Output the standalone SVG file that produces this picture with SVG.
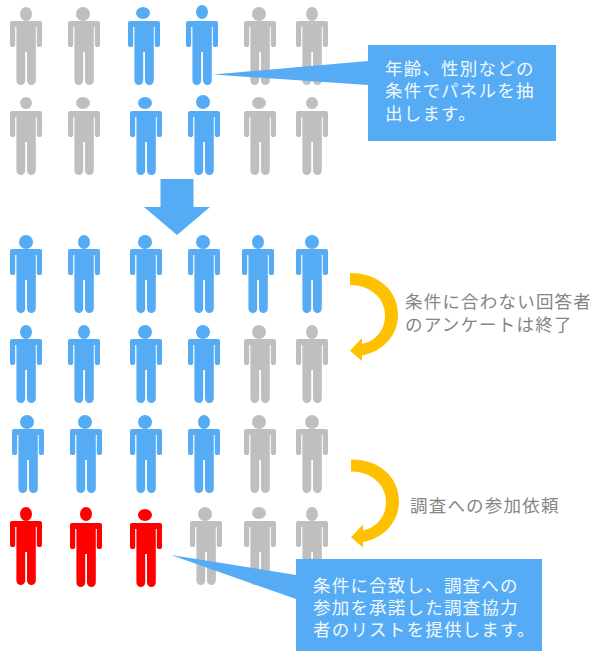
<svg xmlns="http://www.w3.org/2000/svg" xmlns:xlink="http://www.w3.org/1999/xlink" width="592" height="651" viewBox="0 0 592 651">
<style>
.g{fill:#bfbfbf}.b{fill:#55acf5}.r{fill:#ff0000}.y{fill:#ffc000}
text{font-family:"Noto Sans CJK JP","Noto Sans",sans-serif;font-size:17.5px;letter-spacing:1.2px}
.w{fill:#f2f8fe}.t{fill:#858585}
</style>
<defs>
<path id="body" d="M2 0H30A2 2 0 0 1 32 2V23.500A2.500 2.500 0 0 1 26.800 23.500V6H25.800V59.600A4.400 4.400 0 0 1 17 59.600V31H15.200V59.600A4.400 4.400 0 0 1 6.400 59.600V6H5.200V23.500A2.500 2.500 0 0 1 0 23.500V2A2 2 0 0 1 2 0Z"/>
<path id="curve" d="M350 273C380 273 398 292 398 315C398 336 382 352 362 355.500V361L350 350.700L362 338V344C376 341 385 330 385 315C385 298 370 285 350 285Z"/>
</defs>
<rect width="592" height="651" fill="#fff"/>
<g id="n1" class="g"><use href="#body" x="10" y="21"/><ellipse cx="26" cy="14" rx="6" ry="7"/></g>
<g id="n2" class="g"><use href="#body" x="68" y="21"/><ellipse cx="83" cy="14" rx="7" ry="7"/></g>
<g id="n3" class="b"><use href="#body" x="128" y="21"/><ellipse cx="143" cy="13" rx="7" ry="6"/></g>
<g id="n4" class="b"><use href="#body" x="186" y="21"/><ellipse cx="202" cy="12" rx="6" ry="7"/></g>
<g id="n5" class="g"><use href="#body" x="244" y="21"/><ellipse cx="259" cy="14" rx="7" ry="7"/></g>
<g id="n6" class="g"><use href="#body" x="296" y="21"/><ellipse cx="312" cy="14" rx="6" ry="7"/></g>
<g id="n7" class="g"><use href="#body" x="10" y="111"/><ellipse cx="26" cy="103" rx="6" ry="6"/></g>
<g id="n8" class="g"><use href="#body" x="68" y="111"/><ellipse cx="83" cy="103" rx="7" ry="6"/></g>
<g id="n9" class="b"><use href="#body" x="130" y="111"/><ellipse cx="145" cy="103" rx="7" ry="6"/></g>
<g id="n10" class="b"><use href="#body" x="188" y="111"/><ellipse cx="203" cy="102" rx="7" ry="7"/></g>
<g id="n11" class="g"><use href="#body" x="244" y="111"/><ellipse cx="259" cy="103" rx="7" ry="6"/></g>
<g id="n12" class="g"><use href="#body" x="296" y="111"/><ellipse cx="312" cy="103" rx="6" ry="6"/></g>
<g id="n13" class="b"><use href="#body" x="10" y="249"/><ellipse cx="26" cy="242" rx="7" ry="7"/></g>
<g id="n14" class="b"><use href="#body" x="68" y="249"/><ellipse cx="84" cy="242" rx="6" ry="7"/></g>
<g id="n15" class="b"><use href="#body" x="130" y="249"/><ellipse cx="145" cy="242" rx="7" ry="7"/></g>
<g id="n16" class="b"><use href="#body" x="188" y="249"/><ellipse cx="203" cy="242" rx="7" ry="7"/></g>
<g id="n17" class="b"><use href="#body" x="242" y="249"/><ellipse cx="258" cy="242" rx="6" ry="7"/></g>
<g id="n18" class="b"><use href="#body" x="296" y="249"/><ellipse cx="312" cy="242" rx="7" ry="7"/></g>
<g id="n19" class="b"><use href="#body" x="10" y="339"/><ellipse cx="26" cy="332" rx="6" ry="7"/></g>
<g id="n20" class="b"><use href="#body" x="68" y="339"/><ellipse cx="84" cy="332" rx="6" ry="7"/></g>
<g id="n21" class="b"><use href="#body" x="130" y="339"/><ellipse cx="145" cy="332" rx="7" ry="7"/></g>
<g id="n22" class="b"><use href="#body" x="188" y="339"/><ellipse cx="203" cy="332" rx="7" ry="7"/></g>
<g id="n23" class="g"><use href="#body" x="244" y="339"/><ellipse cx="259" cy="332" rx="7" ry="7"/></g>
<g id="n24" class="g"><use href="#body" x="296" y="339"/><ellipse cx="312" cy="332" rx="6" ry="7"/></g>
<g id="n25" class="b"><use href="#body" x="12" y="429"/><ellipse cx="27" cy="422" rx="7" ry="7"/></g>
<g id="n26" class="b"><use href="#body" x="70" y="429"/><ellipse cx="85" cy="422" rx="7" ry="7"/></g>
<g id="n27" class="b"><use href="#body" x="130" y="429"/><ellipse cx="145" cy="422" rx="7" ry="7"/></g>
<g id="n28" class="b"><use href="#body" x="188" y="429"/><ellipse cx="204" cy="422" rx="6" ry="7"/></g>
<g id="n29" class="g"><use href="#body" x="244" y="429"/><ellipse cx="259" cy="422" rx="7" ry="7"/></g>
<g id="n30" class="g"><use href="#body" x="296" y="429"/><ellipse cx="312" cy="422" rx="7" ry="7"/></g>
<g id="n31" class="r"><use href="#body" x="10" y="521"/><ellipse cx="26" cy="514" rx="6" ry="7"/></g>
<g id="n32" class="r"><use href="#body" x="70" y="523"/><ellipse cx="86" cy="514" rx="6" ry="7"/></g>
<g id="n33" class="r"><use href="#body" x="130" y="523"/><ellipse cx="145" cy="515" rx="7" ry="6"/></g>
<g id="n34" class="g"><use href="#body" x="190" y="521"/><ellipse cx="205" cy="514" rx="7" ry="7"/></g>
<g id="n35" class="g"><use href="#body" x="244" y="521"/><ellipse cx="259" cy="513" rx="7" ry="6"/></g>
<g id="n36" class="g"><use href="#body" x="296" y="521"/><ellipse cx="312" cy="514" rx="6" ry="7"/></g>
<g id="connectors">
<polygon class="b" points="160.500,179 193.500,179 193.500,207 210,207 177,235 144,207 160.500,207"/>
<use href="#curve" class="y"/>
<use href="#curve" class="y" x="1" y="186.500"/>
</g>
<g id="callout1">
<polygon class="b" points="213,74.500 368,61 368,85"/>
<rect class="b" x="368" y="45" width="188" height="96"/>
<text class="w"><tspan x="385" y="75">年齢、性別などの</tspan><tspan x="385" y="97.300">条件でパネルを抽</tspan><tspan x="385" y="119.600">出します。</tspan></text>
</g>
<g id="callout2">
<polygon class="b" points="171,555 296,575 296,599"/>
<rect class="b" x="296" y="559" width="246" height="92"/>
<text class="w"><tspan x="313" y="591.500">条件に合致し、調査への</tspan><tspan x="313" y="613.800">参加を承諾した調査協力</tspan><tspan x="313" y="636">者のリストを提供します。</tspan></text>
</g>
<g id="label1">
<text class="t"><tspan x="405" y="308">条件に合わない回答者</tspan><tspan x="405" y="330.500">のアンケートは終了</tspan></text>
</g>
<g id="label2">
<text class="t" x="410" y="511.500">調査への参加依頼</text>
</g>
</svg>
